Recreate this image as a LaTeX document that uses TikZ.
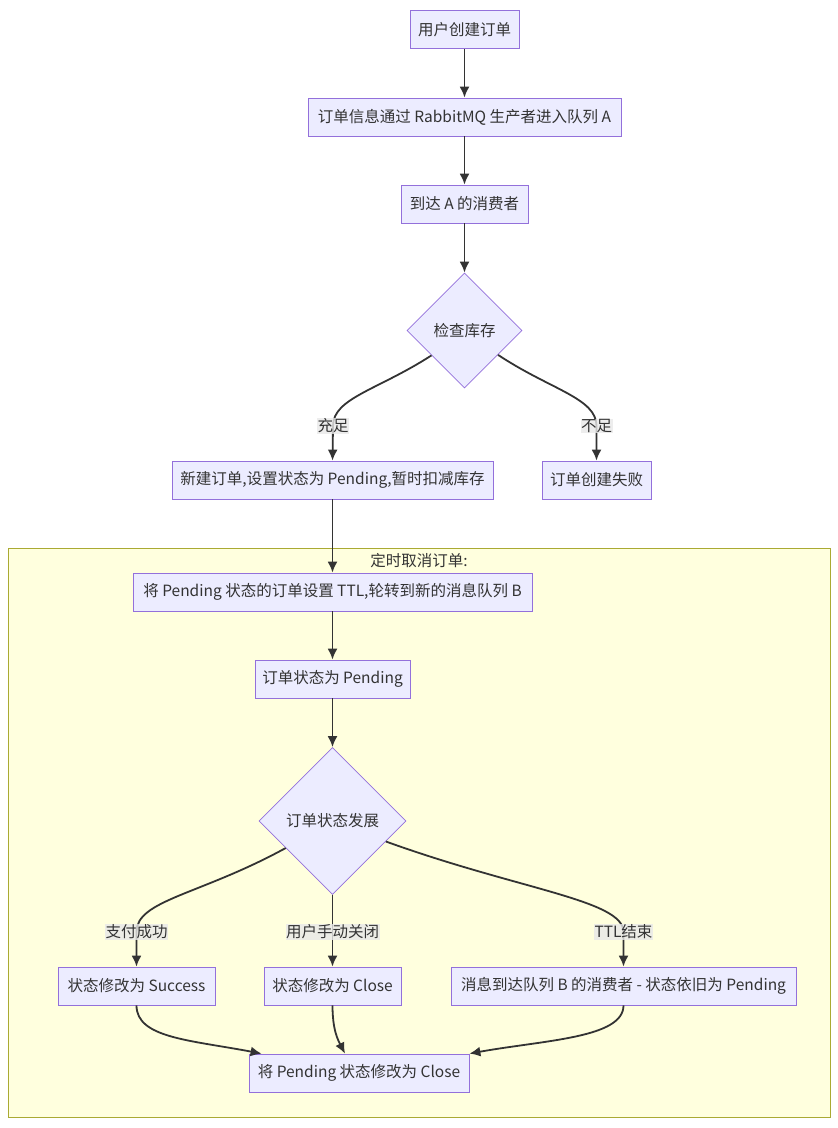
\documentclass[tikz,border=0pt]{standalone}
\usepackage{fontspec}
\setmainfont{Noto Sans CJK SC}
\usetikzlibrary{arrows.meta}
\usetikzlibrary{shapes.geometric}
\definecolor{boxfill}{HTML}{ECECFF}
\definecolor{boxline}{HTML}{9370DB}
\definecolor{ink}{HTML}{333333}
\definecolor{grpfill}{HTML}{FFFFDE}
\definecolor{grpline}{HTML}{AAAA33}
\definecolor{lblfill}{HTML}{E8E8E8}

\begin{document}
\begin{tikzpicture}[x=1pt,y=-1pt,>={Latex[length=11pt,width=10pt]},
        box/.style={draw=boxline,fill=boxfill,text=ink,line width=0.8pt,minimum height=38pt,inner xsep=3pt,font=\fontsize{15.5pt}{18pt}\selectfont},
        choice/.style={diamond,aspect=1,draw=boxline,fill=boxfill,text=ink,line width=0.8pt,inner sep=0pt,font=\fontsize{15.5pt}{18pt}\selectfont},
        lbl/.style={fill=lblfill,fill opacity=0.8,text opacity=1,text=ink,inner sep=0.5pt,font=\fontsize{15.5pt}{18pt}\selectfont},
        link/.style={draw=ink,line width=1.8pt,->}]
        \useasboundingbox (0,0) rectangle (838,1128);
        % gruppo
        \draw[fill=grpfill,draw=grpline,line width=0.8pt] (8,548) rectangle (830,1117);
        \node[text=ink,font=\fontsize{15.5pt}{18pt}\selectfont] (titolo) at (419,561) {定时取消订单:};

        \node[box,minimum width=109pt] (ordine) at (464.5,29.5) {用户创建订单};
        \node[box,minimum width=313pt] (coda) at (464.5,117) {订单信息通过 RabbitMQ 生产者进入队列 A};
        \node[box,minimum width=127pt] (consA) at (464.5,204) {到达 A 的消费者};
        \node[choice,minimum width=115pt,minimum height=115pt] (stock) at (464.5,330.5) {检查库存};
        \node[box,minimum width=321pt] (nuovo) at (332.5,480) {新建订单,设置状态为 Pending,暂时扣减库存};
        \node[box,minimum width=109pt] (fallito) at (596.5,480) {订单创建失败};
        \node[box,minimum width=399pt] (ttl) at (332.5,592) {将 Pending 状态的订单设置 TTL,轮转到新的消息队列 B};
        \node[box,minimum width=155pt] (pend) at (332.5,679) {订单状态为 Pending};
        \node[choice,minimum width=147pt,minimum height=147pt] (stato) at (332.5,821) {订单状态发展};
        \node[box,minimum width=157pt] (succ) at (136.5,986) {状态修改为 Success};
        \node[box,minimum width=137pt] (chiuso) at (332.5,986) {状态修改为 Close};
        \node[box,minimum width=345pt] (consB) at (623.5,986) {消息到达队列 B 的消费者 - 状态依旧为 Pending};
        \node[box,minimum width=220pt] (fine) at (359,1073) {将 Pending 状态修改为 Close};

        \draw[link] (ordine) -- (coda);
        \draw[link] (coda) -- (consA);
        \draw[link] (consA) -- (stock);
        \draw[link] (stock.-143) .. controls (378,390) and (333,398) .. (333,426) node[lbl] (l1) {充足} -- (nuovo.north);
        \draw[link] (stock.-36) .. controls (551,390) and (596.5,398) .. (596.5,426) node[lbl] (l2) {不足} -- (fallito.north);
        \draw[link] (nuovo) -- (ttl);
        \draw[link] (ttl) -- (pend);
        \draw[link] (pend) -- (stato);
        \draw[link] (stato.-150) .. controls (200,895) and (136.5,900) .. (136.5,932) node[lbl] (l3) {支付成功} -- (succ.north);
        \draw[link] (stato.south) -- (332.5,932) node[lbl] (l4) {用户手动关闭} -- (chiuso.north);
        \draw[link] (stato.-21) .. controls (520,890) and (623.5,900) .. (623.5,932) node[lbl] (l5) {TTL结束} -- (consB.north);
        \draw[link] (succ.south) .. controls (136.5,1038) and (190,1040) .. ([xshift=13pt]fine.north west);
        \draw[link] (chiuso.south) .. controls (332.5,1030) and (338,1040) .. ([xshift=-14pt]fine.north);
        \draw[link] (consB.south) .. controls (623.5,1038) and (545,1040) .. (fine.north east);
    \end{tikzpicture}
\end{document}
